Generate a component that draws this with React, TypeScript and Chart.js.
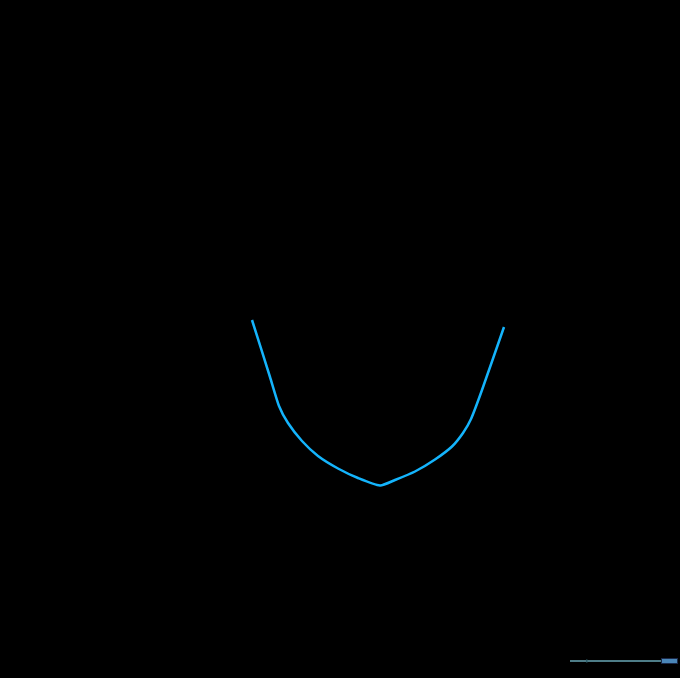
import React, { useRef, useEffect } from 'react';
import { Chart, registerables } from 'chart.js';

Chart.register(...registerables);

// curve (x, y in chart units)
const xValues = [-12.8, -11.0, -10.1, -9.2, -7.8, -6.2, -4.2, -2.2, 0, 1.5, 3.5, 5.5, 7.2, 8.3, 9.1, 10.2, 12.4];
const yValues = [16.6, 10.9, 8.0, 6.3, 4.5, 3.0, 1.75, 0.8, 0.05, 0.6, 1.45, 2.65, 3.95, 5.3, 6.7, 9.6, 15.9];

// range of the hidden axes
const xRange = [-38, 30];
const yRange = [-19.2, 48.6];

// zoom slider drawn in the bottom right corner
const sliderPlugin = {
  id: 'slider',
  afterDraw(chart: any) {
    const ctx = chart.ctx;
    ctx.save();
    ctx.strokeStyle = '#68a7b6';
    ctx.lineWidth = 1.4;
    ctx.beginPath();
    ctx.moveTo(570, 661);
    ctx.lineTo(662, 661);
    ctx.stroke();
    ctx.fillStyle = '#2f5f6a';
    ctx.fillRect(586, 659.5, 1.5, 3);
    // handle
    ctx.fillStyle = '#4a86b8';
    ctx.fillRect(662, 659, 15, 4);
    ctx.strokeStyle = '#1b2a4a';
    ctx.lineWidth = 1;
    ctx.strokeRect(661.5, 658.5, 16, 5);
    ctx.restore();
  },
};

const App = () => {
  const canvasRef = useRef<HTMLCanvasElement>(null);
  const chartRef = useRef<Chart | null>(null);

  useEffect(() => {
    document.body.style.margin = '0';
    document.body.style.background = '#000';
    if (!canvasRef.current) return;
    chartRef.current = new Chart(canvasRef.current, {
      type: 'line',
      data: {
        datasets: [
          {
            data: xValues.map((x, i) => ({ x, y: yValues[i] })),
            borderColor: '#14b4fc',
            borderWidth: 2.5,
            pointRadius: 0,
            tension: 0.2,
            fill: false,
          },
        ],
      },
      options: {
        animation: false,
        responsive: false,
        maintainAspectRatio: false,
        layout: { padding: 0 },
        plugins: { legend: { display: false }, tooltip: { enabled: false } },
        scales: {
          x: { type: 'linear', min: xRange[0], max: xRange[1], display: false },
          y: { type: 'linear', min: yRange[0], max: yRange[1], display: false },
        },
      },
      plugins: [sliderPlugin],
    });
    return () => {
      chartRef.current?.destroy();
    };
  }, []);

  return (
    <div style={{ width: 680, height: 678, background: '#000' }}>
      <canvas ref={canvasRef} width={680} height={678} style={{ display: 'block' }} />
    </div>
  );
};

export default App;
